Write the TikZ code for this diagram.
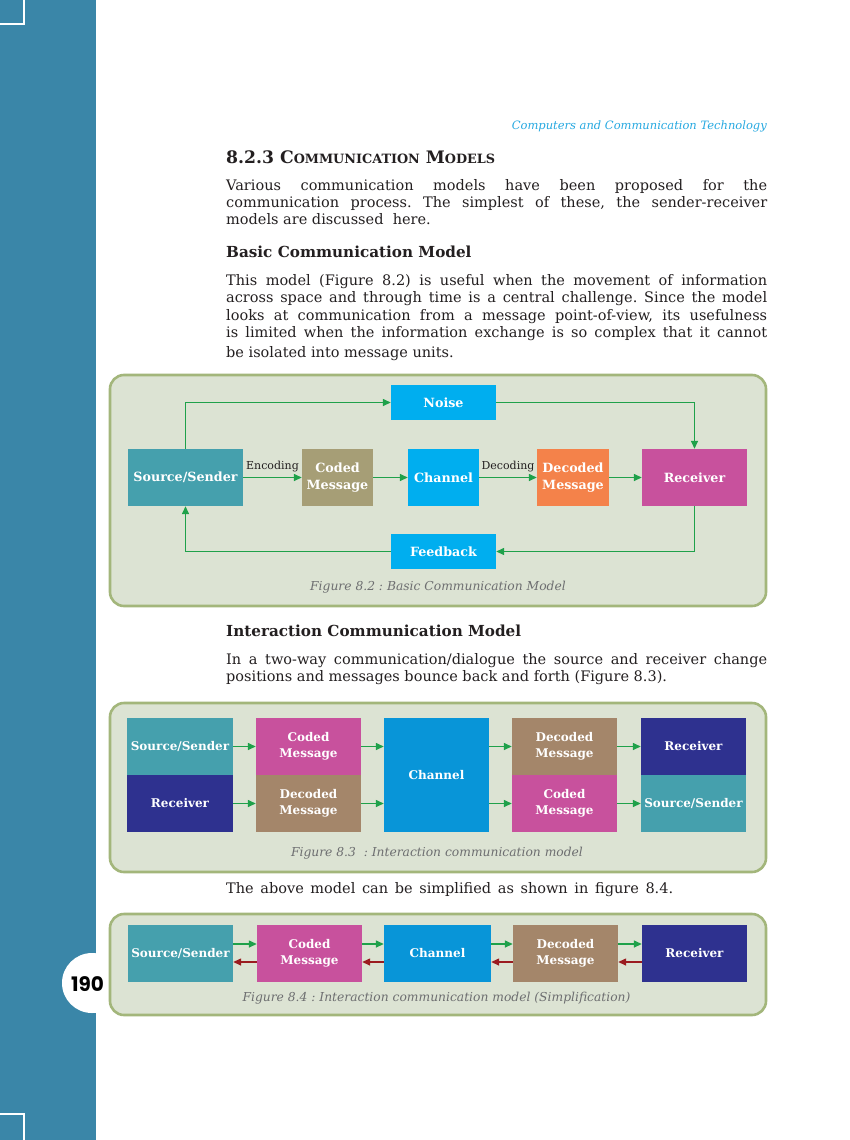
\documentclass[tikz,border=0pt]{standalone}
\usepackage{fontspec}
\setmainfont{DejaVu Serif}
\newfontfamily\numfont{Poppins}
\usetikzlibrary{arrows.meta}
\definecolor{sidebar}{HTML}{3A86A8}
\definecolor{figbg}{HTML}{DCE3D3}
\definecolor{figborder}{HTML}{A3B67B}
\definecolor{arrgreen}{HTML}{1FA14A}
\definecolor{arrred}{HTML}{9B1C20}
\definecolor{cteal}{HTML}{45A0AD}
\definecolor{colive}{HTML}{A69E76}
\definecolor{ccyan}{HTML}{00AEEF}
\definecolor{corange}{HTML}{F4824A}
\definecolor{cmagenta}{HTML}{C8519D}
\definecolor{cnavy}{HTML}{2E318F}
\definecolor{cbrown}{HTML}{A4866A}
\definecolor{cblue}{HTML}{0895D8}
\definecolor{capgray}{HTML}{6D6E70}
\definecolor{headcyan}{HTML}{27A9E1}
\definecolor{bodyblack}{HTML}{231F20}
\begin{document}
\frenchspacing
\begin{tikzpicture}[x=1pt,y=-1pt,
  box/.style={inner sep=0pt, minimum height=57pt, text=white, align=center,
    font=\bfseries\fontsize{12}{16}\selectfont},
  bigbox/.style={box, font=\bfseries\fontsize{12.7}{16.5}\selectfont},
  sbox/.style={bigbox, minimum height=35pt},
  garrow/.style={draw=arrgreen, line width=1.4pt, -{Triangle[length=8pt,width=7pt]}},
  rarrow/.style={draw=arrred, line width=1.4pt, -{Triangle[length=8pt,width=7pt]}},
  figbox/.style={draw=figborder, line width=2.6pt, fill=figbg, rounded corners=14pt},
  caption/.style={inner sep=0pt, text=capgray, font=\itshape\fontsize{12.3}{14}\selectfont},
  lbl/.style={inner sep=0pt, text=bodyblack, font=\fontsize{11}{12}\selectfont},
  body/.style={anchor=base west, inner sep=0pt, text=bodyblack, font=\fontsize{14.5}{17}\selectfont},
  head/.style={anchor=base west, inner sep=0pt, text=bodyblack, font=\bfseries\fontsize{15.2}{18}\selectfont}]
\useasboundingbox (0,0) rectangle (850,1140);
\fill[white] (0,0) rectangle (850,1140);
% sidebar
\fill[sidebar] (0,0) rectangle (96,1140);
\draw[white, line width=1.5pt] (0,24) -- (24,24) -- (24,0);
\draw[white, line width=1.5pt] (0,1114) -- (24,1114) -- (24,1140);
\fill[white] (92,983) circle[radius=30];
\node[inner sep=0pt, font=\numfont\bfseries\fontsize{20}{22}\selectfont] (pnum) at (87.5,984) {190};
% header and text
\node[anchor=base east, inner sep=0pt, text=headcyan, font=\itshape\fontsize{11.5}{14}\selectfont] (hdr) at (767,129) {Computers and Communication Technology};
\node[anchor=base west, inner sep=0pt, text=bodyblack, font=\bfseries\fontsize{17.2}{20}\selectfont] (title) at (226,163)
  {8.2.3 C{\fontsize{12.8}{16}\selectfont OMMUNICATION} M{\fontsize{12.8}{16}\selectfont ODELS}};
\node[body] (p1a) at (226,190) {\makebox[541pt][s]{Various communication models have been proposed for the}};
\node[body] (p1b) at (226,207) {\makebox[541pt][s]{communication process. The simplest of these, the sender-receiver}};
\node[body] (p1c) at (226,224) {models are discussed\ \ here.};
\node[head] (h1) at (226,257) {Basic Communication Model};
\node[body] (p2a) at (226,285) {\makebox[541pt][s]{This model (Figure 8.2) is useful when the movement of information}};
\node[body] (p2b) at (226,302.5) {\makebox[541pt][s]{across space and through time is a central challenge. Since the model}};
\node[body] (p2c) at (226,320) {\makebox[541pt][s]{looks at communication from a message point-of-view, its usefulness}};
\node[body] (p2d) at (226,337.5) {\makebox[541pt][s]{is limited when the information exchange is so complex that it cannot}};
\node[body] (p2e) at (226,357) {be isolated into message units.};
% Figure 8.2
\draw[figbox] (110,375) rectangle (766,606);
\node[bigbox, minimum width=115pt, fill=cteal] (src) at (185.5,477.5) {Source/Sender};
\node[bigbox, minimum width=71pt, fill=colive] (coded) at (337.5,477.5) {Coded\\Message};
\node[bigbox, minimum width=71pt, fill=ccyan] (chan) at (443.5,477.5) {Channel};
\node[bigbox, minimum width=72pt, fill=corange] (dec) at (573,477.5) {Decoded\\Message};
\node[bigbox, minimum width=105pt, fill=cmagenta] (recv) at (694.5,477.5) {Receiver};
\node[sbox, minimum width=105pt, fill=ccyan] (noise) at (443.5,402.5) {Noise};
\node[sbox, minimum width=105pt, fill=ccyan] (feed) at (443.5,551.5) {Feedback};
\draw[garrow] (src.north) |- (noise.west);
\draw[garrow] (noise.east) -| (recv.north);
\draw[garrow] (src) -- node[lbl, above=5pt] (enc) {Encoding} (coded);
\draw[garrow] (coded) -- (chan);
\draw[garrow] (chan) -- node[lbl, above=5pt] (decl) {Decoding} (dec);
\draw[garrow] (dec) -- (recv);
\draw[garrow] (recv.south) |- (feed.east);
\draw[garrow] (feed.west) -| (src.south);
\node[caption] (cap2) at (438,587) {Figure 8.2 : Basic Communication Model};
% text
\node[head] (h2) at (226,636) {Interaction Communication Model};
\node[body] (p3a) at (226,664) {\makebox[541pt][s]{In a two-way communication/dialogue the source and receiver change}};
\node[body] (p3b) at (226,681) {positions and messages bounce back and forth (Figure 8.3).};
% Figure 8.3
\draw[figbox] (110,703) rectangle (766,872);
\node[box, minimum width=106pt, fill=cteal] (s1) at (180,746.5) {Source/Sender};
\node[box, minimum width=106pt, fill=cnavy] (r1) at (180,803.5) {Receiver};
\node[box, minimum width=105pt, fill=cmagenta] (c1) at (308.5,746.5) {Coded\\Message};
\node[box, minimum width=105pt, fill=cbrown] (d1) at (308.5,803.5) {Decoded\\Message};
\node[box, minimum width=105pt, minimum height=114pt, fill=cblue] (ch) at (436.5,775) {Channel};
\node[box, minimum width=105pt, fill=cbrown] (d2) at (564.5,746.5) {Decoded\\Message};
\node[box, minimum width=105pt, fill=cmagenta] (c2) at (564.5,803.5) {Coded\\Message};
\node[box, minimum width=105pt, fill=cnavy] (r2) at (693.5,746.5) {Receiver};
\node[box, minimum width=105pt, fill=cteal] (s2) at (693.5,803.5) {Source/Sender};
\draw[garrow] (s1) -- (c1);
\draw[garrow] (r1) -- (d1);
\draw[garrow] (c1.east) -- (c1.east -| ch.west);
\draw[garrow] (d1.east) -- (d1.east -| ch.west);
\draw[garrow] (ch.east |- d2.west) -- (d2.west);
\draw[garrow] (ch.east |- c2.west) -- (c2.west);
\draw[garrow] (d2) -- (r2);
\draw[garrow] (c2) -- (s2);
\node[caption] (cap3) at (437,853) {Figure 8.3\ \ : Interaction communication model};
\node[body] (p4) at (226,893) {\makebox[447pt][s]{The above model can be simplified as shown in figure 8.4.}};
% Figure 8.4
\draw[figbox] (110,914) rectangle (766,1015);
\node[box, minimum width=105pt, fill=cteal] (a4) at (180.5,953.5) {Source/Sender};
\node[box, minimum width=105pt, fill=cmagenta] (b4) at (309.5,953.5) {Coded\\Message};
\node[box, minimum width=107pt, fill=cblue] (c4) at (437.5,953.5) {Channel};
\node[box, minimum width=105pt, fill=cbrown] (d4) at (565.5,953.5) {Decoded\\Message};
\node[box, minimum width=105pt, fill=cnavy] (e4) at (694.5,953.5) {Receiver};
\foreach \p/\q in {a4/b4, b4/c4, c4/d4, d4/e4}{
  \draw[garrow] ([yshift=9.5pt]\p.east) -- ([yshift=9.5pt]\q.west);
  \draw[rarrow] ([yshift=-8.5pt]\q.west) -- ([yshift=-8.5pt]\p.east);
}
\node[caption] (cap4) at (436.5,998) {Figure 8.4 : Interaction communication model (Simplification)};
\end{tikzpicture}
\end{document}
